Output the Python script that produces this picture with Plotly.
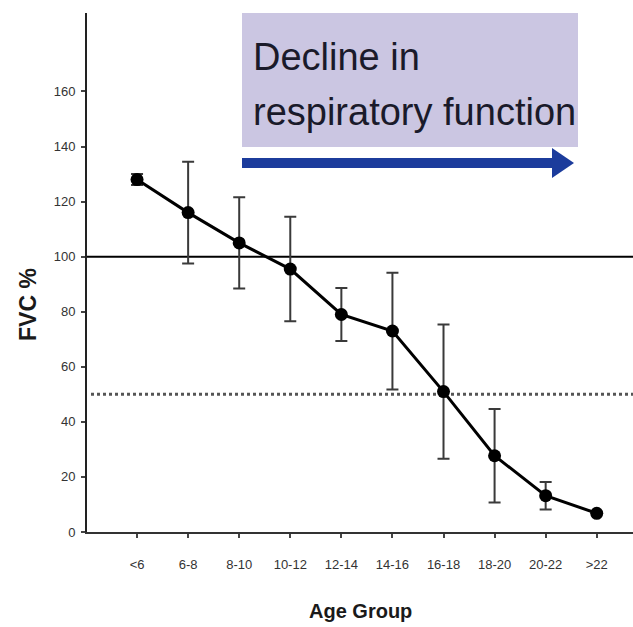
import plotly.graph_objects as go

# ---- data ----
age_groups = ["<6", "6-8", "8-10", "10-12", "12-14", "14-16", "16-18", "18-20", "20-22", ">22"]
fvc_mean = [128, 116, 105, 95.5, 79, 73, 51, 27.7, 13.2, 6.8]
fvc_err = [2, 18.5, 16.6, 19, 9.6, 21.2, 24.4, 17, 5, 0]
y_ticks = [0, 20, 40, 60, 80, 100, 120, 140, 160]
ref_normal = 100
ref_half = 50
box_lines = ["Decline in", "respiratory function"]

# ---- layout geometry (pixels) ----
W, H = 633, 627
L, R, T, B = 87, 633, 13, 532
PW, PH = R - L, B - T


def px(x):
    return (x - L) / PW


def py(y):
    return (B - y) / PH


x_idx = list(range(len(age_groups)))

fig = go.Figure()
fig.add_trace(go.Scatter(
    x=x_idx, y=fvc_mean,
    mode="lines+markers",
    line=dict(color="black", width=3),
    marker=dict(color="black", size=13, symbol="circle"),
    error_y=dict(type="data", array=fvc_err, visible=True,
                 color="#3a3a3a", thickness=2, width=6),
    showlegend=False,
    cliponaxis=False,
))

shapes = [
    # reference lines
    dict(type="line", xref="paper", yref="y", x0=0, x1=1, y0=ref_normal, y1=ref_normal,
         line=dict(color="black", width=2), layer="below"),
    dict(type="line", xref="paper", yref="y", x0=px(91), x1=1, y0=ref_half, y1=ref_half,
         line=dict(color="#555555", width=3, dash="dot"), layer="below"),
    # lavender box
    dict(type="rect", xref="paper", yref="paper", x0=px(242), x1=px(578), y0=py(147), y1=py(13),
         fillcolor="#cbc6e2", line=dict(width=0), layer="below"),
    # blue arrow shaft
    dict(type="rect", xref="paper", yref="paper", x0=px(242), x1=px(553), y0=py(168), y1=py(158),
         fillcolor="#1c3c9c", line=dict(width=0)),
    # arrow head
    dict(type="path", xref="paper", yref="paper",
         path=f"M {px(552)},{py(148)} L {px(574)},{py(163)} L {px(552)},{py(178)} Z",
         fillcolor="#1c3c9c", line=dict(width=0)),
]

box_font = dict(family="Liberation Sans, Arial", size=38, color="#1a1a2a")
annotations = [
    dict(xref="paper", yref="paper", x=px(251), y=py(57), xanchor="left", yanchor="middle",
         text=box_lines[0], showarrow=False, align="left", font=box_font),
    dict(xref="paper", yref="paper", x=px(251), y=py(112), xanchor="left", yanchor="middle",
         text=box_lines[1], showarrow=False, align="left", font=box_font),
    dict(xref="paper", yref="paper", x=px(28), y=py(305), xanchor="center", yanchor="middle",
         text="<b>FVC %</b>", textangle=-90, showarrow=False,
         font=dict(family="Liberation Sans, Arial", size=23, color="#1a1a1a")),
    dict(xref="paper", yref="paper", x=0.5, y=py(611), xanchor="center", yanchor="middle",
         text="<b>Age Group</b>", showarrow=False,
         font=dict(family="Liberation Sans, Arial", size=20, color="#1a1a1a")),
]

fig.update_layout(
    width=W, height=H,
    margin=dict(l=L, r=W - R, t=T, b=H - B, pad=0),
    paper_bgcolor="white", plot_bgcolor="white",
    shapes=shapes, annotations=annotations,
    font=dict(family="Liberation Sans, Arial", color="#333333"),
    xaxis=dict(
        range=[-0.98, 9.71], tickvals=x_idx, ticktext=age_groups,
        showgrid=False, zeroline=False, showline=True, linecolor="#333333", linewidth=2,
        ticks="outside", ticklen=4, tickwidth=2, tickcolor="#444444",
        tickfont=dict(size=13, color="#333333"), ticklabelstandoff=15,
    ),
    yaxis=dict(
        range=[0, 188.5], tickvals=y_ticks,
        showgrid=False, zeroline=False, showline=True, linecolor="#222222", linewidth=2,
        ticks="outside", ticklen=4, tickwidth=2, tickcolor="#444444",
        tickfont=dict(size=13, color="#333333"), ticklabelstandoff=3,
    ),
)

fig.write_html("out.html")
